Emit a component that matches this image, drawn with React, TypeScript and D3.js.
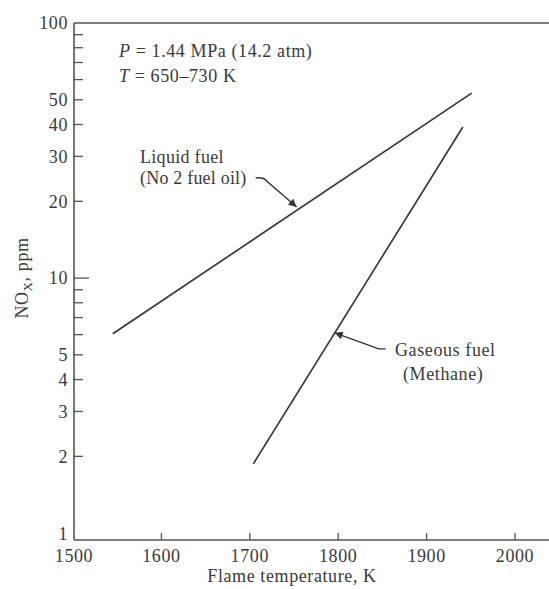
import React from "react";
import * as d3 from "d3";

const xTicks = [1500, 1600, 1700, 1800, 1900, 2000];
const yLabeledTicks = [1, 2, 3, 4, 5, 10, 20, 30, 40, 50, 100];
const yMinorTicks = [6, 7, 8, 9, 60, 70, 80, 90];
const liquidTemp = [1545, 1951];
const liquidNOx = [6.05, 53.1];
const gasTemp = [1704, 1941];
const gasNOx = [1.87, 39.1];
const liquidArrowTip = [1753, 19.0];
const gasArrowTip = [1796, 6.1];

const W = 549;
const H = 589;
const FONT = "'Liberation Serif', 'DejaVu Serif', serif";
const AXIS = "#555";
const INK = "#333";
const TXT = "#3a3a3a";
const FS = 18;
const LS = 0.6;

export default function App() {
  const x = d3.scaleLinear().domain([1500, 2000]).range([73, 515]);
  const y = d3.scaleLog().domain([0.94, 100]).range([540, 23]);
  const left = 74;
  const bottom = 540;
  const top = y(100);

  const line = d3
    .line<[number, number]>()
    .x((d) => x(d[0]))
    .y((d) => y(d[1]));

  const liquid: [number, number][] = liquidTemp.map((t, i) => [t, liquidNOx[i]]);
  const gas: [number, number][] = gasTemp.map((t, i) => [t, gasNOx[i]]);

  const lt = [x(liquidArrowTip[0]), y(liquidArrowTip[1])];
  const gt = [x(gasArrowTip[0]), y(gasArrowTip[1])];

  return (
    <svg
      width={W}
      height={H}
      style={{ position: "absolute", left: 0, top: 0, background: "#fff" }}
      fontFamily={FONT}
      letterSpacing={LS}
    >
      <defs>
        <marker
          id="ah"
          viewBox="0 0 10 10"
          refX="10"
          refY="5"
          markerWidth="10"
          markerHeight="8"
          markerUnits="userSpaceOnUse"
          orient="auto"
        >
          <path d="M0,0 L10,5 L0,10 Z" fill={INK} />
        </marker>
      </defs>

      {/* frame: left axis, top line, bottom axis */}
      <line x1={left} x2={left} y1={top} y2={bottom} stroke={AXIS} strokeWidth={1.6} />
      <line x1={left} x2={W} y1={top} y2={top} stroke={AXIS} strokeWidth={1.6} />
      <line x1={left} x2={W} y1={bottom} y2={bottom} stroke={AXIS} strokeWidth={1.6} />

      {/* y ticks */}
      {yLabeledTicks.map((v) => {
        const yy = v === 1 ? bottom - 6 : y(v);
        const long = v === 10;
        return (
          <g key={"yl" + v}>
            {v !== 1 && v !== 100 && (
              <line x1={left} x2={left + (long ? 15 : 9)} y1={yy} y2={yy} stroke={AXIS} strokeWidth={1.3} />
            )}
            <text x={68} y={yy} dy="0.35em" textAnchor="end" fontSize={FS} fill={TXT}>
              {v}
            </text>
          </g>
        );
      })}
      {yMinorTicks.map((v) => (
        <line key={"ym" + v} x1={left} x2={left + 9} y1={y(v)} y2={y(v)} stroke={AXIS} strokeWidth={1.3} />
      ))}

      {/* x ticks */}
      {xTicks.map((t) => (
        <g key={"xt" + t}>
          {t !== 1500 && (
            <line x1={x(t)} x2={x(t)} y1={bottom} y2={bottom - 7} stroke={AXIS} strokeWidth={1.3} />
          )}
          <text x={t === 1500 ? left : x(t)} y={bottom + 22} textAnchor="middle" fontSize={FS} fill={TXT}>
            {t}
          </text>
        </g>
      ))}

      {/* axis titles */}
      <text x={292} y={582} textAnchor="middle" fontSize={FS} fill={TXT}>
        Flame temperature, K
      </text>
      <text
        transform={`translate(28,${278}) rotate(-90)`}
        textAnchor="middle"
        fontSize={FS}
        fill={TXT}
      >
        NO
        <tspan fontSize={13} dy={4}>X</tspan>
        <tspan dy={-4}>, ppm</tspan>
      </text>

      {/* data lines */}
      <path d={line(liquid) || ""} fill="none" stroke={INK} strokeWidth={1.6} />
      <path d={line(gas) || ""} fill="none" stroke={INK} strokeWidth={1.6} />

      {/* conditions */}
      <text x={119} y={57} fontSize={FS} fill={TXT}>
        <tspan fontStyle="italic">P</tspan> = 1.44 MPa (14.2 atm)
      </text>
      <text x={119} y={82} fontSize={FS} fill={TXT}>
        <tspan fontStyle="italic">T</tspan> = 650–730 K
      </text>

      {/* liquid annotation */}
      <text x={140} y={163} fontSize={FS} fill={TXT} letterSpacing={0.3}>Liquid fuel</text>
      <text x={140} y={184} fontSize={FS} fill={TXT} letterSpacing={0.2}>(No 2 fuel oil)</text>
      <path
        d={`M${lt[0] - 41},${lt[1] - 29} Q${lt[0] - 33},${lt[1] - 30} ${lt[0] - 30},${lt[1] - 26} L${lt[0]},${lt[1]}`}
        fill="none"
        stroke={INK}
        strokeWidth={1.4}
        markerEnd="url(#ah)"
      />

      {/* gaseous annotation */}
      <text x={395} y={356} fontSize={FS} fill={TXT}>Gaseous fuel</text>
      <text x={403} y={380} fontSize={FS} fill={TXT}>(Methane)</text>
      <path
        d={`M${gt[0] + 51},${gt[1] + 16} L${gt[0] + 44},${gt[1] + 16} L${gt[0]},${gt[1]}`}
        fill="none"
        stroke={INK}
        strokeWidth={1.4}
        markerEnd="url(#ah)"
      />
    </svg>
  );
}
